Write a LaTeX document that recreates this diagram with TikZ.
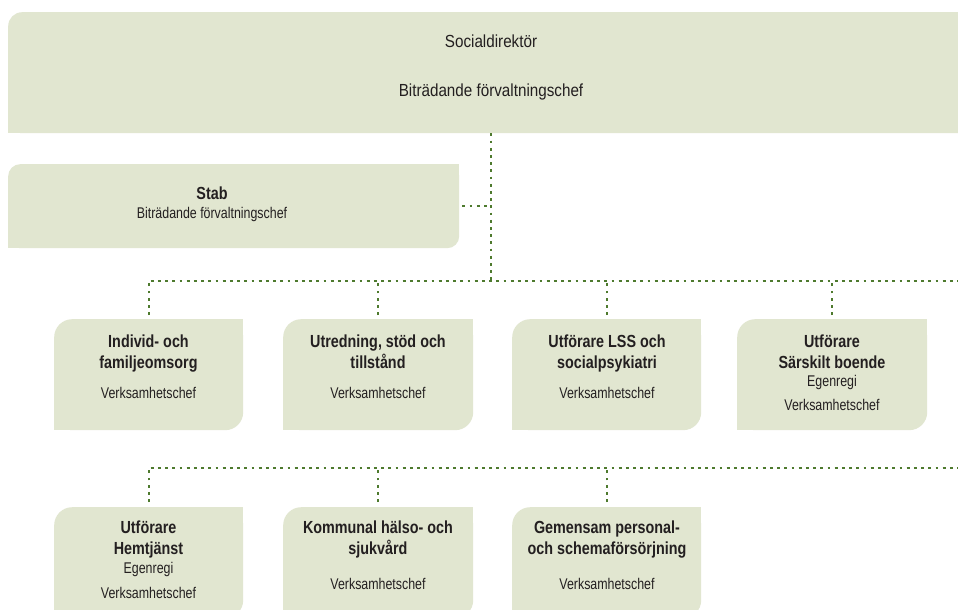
\documentclass[tikz,border=0pt]{standalone}
\usepackage{fontspec}
\setmainfont[FakeStretch=0.87]{Liberation Sans}
\newfontfamily\subfam[FakeStretch=0.80]{Liberation Sans}
\newfontfamily\ttlfam[FakeStretch=0.82]{Liberation Sans}
\usetikzlibrary{calc}
\definecolor{boxfill}{RGB}{225,230,208}
\definecolor{conncol}{RGB}{78,122,46}
\definecolor{txt}{RGB}{35,31,32}
\tikzset{
  orgbox/.style={fill=boxfill, inner sep=0pt, anchor=north west, rounded corners=18pt},
  conn/.style={draw=conncol, line width=1.8pt, dash pattern=on 2.8pt off 4.4pt},
  ttl/.style={font=\ttlfam\bfseries\fontsize{17.5}{19}\selectfont, text=txt, inner sep=0pt, anchor=base},
  sub/.style={font=\subfam\fontsize{15.5}{17}\selectfont, text=txt, inner sep=0pt, anchor=base},
  toptxt/.style={font=\fontsize{17.5}{20}\selectfont, text=txt, inner sep=0pt, anchor=base}
}
\begin{document}
\begin{tikzpicture}[x=1pt,y=-1pt]
\clip (0,0) rectangle (958,610);
\fill[white] (0,0) rectangle (958,610);
% top box
\node[orgbox, rounded corners=14pt, minimum width=966pt, minimum height=121pt] (top) at (8,12) {};
\fill[boxfill] (top.south west) rectangle ++(20,-20);
\node[toptxt] (topa) at (491,48) {Socialdirektör};
\node[toptxt] (topb) at (491,96) {Biträdande förvaltningschef};
% stab
\node[orgbox, rounded corners=12pt, minimum width=451pt, minimum height=84pt] (stab) at (8,164) {};
\fill[boxfill] (stab.north east) rectangle ++(-16,16);
\fill[boxfill] (stab.south west) rectangle ++(16,-16);
\node[ttl] (staba) at (212,199) {Stab};
\node[sub] (stabb) at (212,218) {Biträdande förvaltningschef};
% row 1
\node[orgbox, minimum width=189pt, minimum height=111pt] (b1) at (54,319) {};
\node[orgbox, minimum width=190pt, minimum height=111pt] (b2) at (283,319) {};
\node[orgbox, minimum width=189pt, minimum height=111pt] (b3) at (512,319) {};
\node[orgbox, minimum width=190pt, minimum height=111pt] (b4) at (737,319) {};
% row 2
\node[orgbox, minimum width=189pt, minimum height=111pt] (b5) at (54,507) {};
\node[orgbox, minimum width=190pt, minimum height=111pt] (b6) at (283,507) {};
\node[orgbox, minimum width=189pt, minimum height=111pt] (b7) at (512,507) {};
\foreach \b in {b1,b2,b3,b4,b5,b6,b7}{
  \fill[boxfill] (\b.north east) rectangle ++(-20,20);
  \fill[boxfill] (\b.south west) rectangle ++(20,-20);
}
% row 1 texts
\node[ttl] (b1a) at (148.5,347) {Individ- och};
\node[ttl] (b1b) at (148.5,368) {familjeomsorg};
\node[sub] (b1c) at (148.5,398) {Verksamhetschef};
\node[ttl] (b2a) at (378,347) {Utredning, stöd och};
\node[ttl] (b2b) at (378,368) {tillstånd};
\node[sub] (b2c) at (378,398) {Verksamhetschef};
\node[ttl] (b3a) at (607,347) {Utförare LSS och};
\node[ttl] (b3b) at (607,368) {socialpsykiatri};
\node[sub] (b3c) at (607,398) {Verksamhetschef};
\node[ttl] (b4a) at (832,347) {Utförare};
\node[ttl] (b4b) at (832,368) {Särskilt boende};
\node[sub] (b4c) at (832,386) {Egenregi};
\node[sub] (b4d) at (832,410) {Verksamhetschef};
% row 2 texts
\node[ttl] (b5a) at (148.5,533) {Utförare};
\node[ttl] (b5b) at (148.5,554) {Hemtjänst};
\node[sub] (b5c) at (148.5,573) {Egenregi};
\node[sub] (b5d) at (148.5,598) {Verksamhetschef};
\node[ttl] (b6a) at (378,533) {Kommunal hälso- och};
\node[ttl] (b6b) at (378,554) {sjukvård};
\node[sub] (b6c) at (378,589) {Verksamhetschef};
\node[ttl] (b7a) at (607,533) {Gemensam personal-};
\node[ttl] (b7b) at (607,554) {och schemaförsörjning};
\node[sub] (b7c) at (607,589) {Verksamhetschef};
% connectors
\coordinate (r1) at (960,281);
\coordinate (r2) at (960,468);
\draw[conn] (top.south) -- (top.south |- r1);
\draw[conn] ($(stab.east)+(3,0)$) -- (stab.east -| top.south);
\draw[conn] ($(b1.north)+(0,-4)$) |- (r1);
\draw[conn] ($(b2.north)+(0,-4)$) -- (b2.north |- r1);
\draw[conn] ($(b3.north)+(0,-4)$) -- (b3.north |- r1);
\draw[conn] ($(b4.north)+(0,-4)$) -- (b4.north |- r1);
\draw[conn] ($(b5.north)+(0,-5)$) |- (r2);
\draw[conn] ($(b6.north)+(0,-5)$) -- (b6.north |- r2);
\draw[conn] ($(b7.north)+(0,-5)$) -- (b7.north |- r2);
\end{tikzpicture}
\end{document}
